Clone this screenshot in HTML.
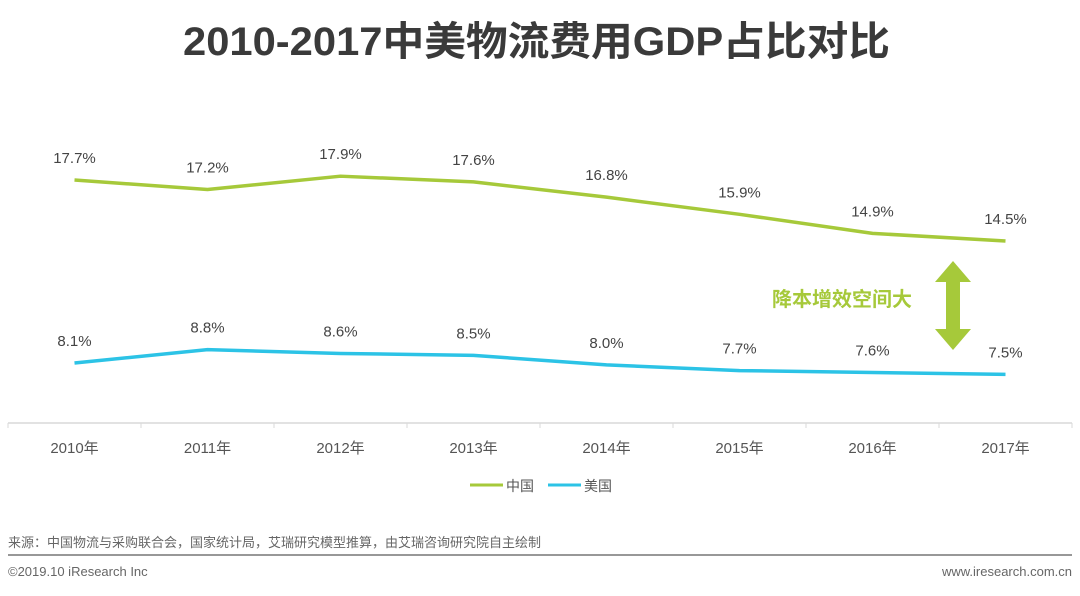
<!DOCTYPE html>
<html><head><meta charset="utf-8">
<style>
body{margin:0;background:#fff;width:1080px;height:591px;overflow:hidden;font-family:"Liberation Sans","Noto Sans CJK SC",sans-serif;}
</style></head><body>
<svg width="1080" height="591" xmlns="http://www.w3.org/2000/svg" style="font-family:'Liberation Sans','Noto Sans CJK SC',sans-serif">
<text x="183" y="55" font-size="40" font-weight="bold" fill="#3a3a3a" textLength="707" lengthAdjust="spacingAndGlyphs">2010-2017中美物流费用GDP占比对比</text>
<g id="axis"></g>
<g id="series"></g>
<text x="842" y="306" text-anchor="middle" font-size="20" font-weight="bold" fill="#a6c93a">降本增效空间大</text>
<polygon points="953,261 971,282 960,282 960,329 971,329 953,350 935,329 946,329 946,282 935,282" fill="#a6c93a"/>
<g>
<line x1="470" y1="485" x2="503" y2="485" stroke="#a6c93a" stroke-width="3"/>
<text x="506" y="491" font-size="14" fill="#555">中国</text>
<line x1="548" y1="485" x2="581" y2="485" stroke="#2cc3e6" stroke-width="3"/>
<text x="584" y="491" font-size="14" fill="#555">美国</text>
</g>
<text x="8" y="547" font-size="13" fill="#666">来源：中国物流与采购联合会，国家统计局，艾瑞研究模型推算，由艾瑞咨询研究院自主绘制</text>
<line x1="8" y1="555" x2="1072" y2="555" stroke="#777" stroke-width="1.5"/>
<text x="8" y="576" font-size="13" fill="#666">©2019.10 iResearch Inc</text>
<text x="1072" y="576" text-anchor="end" font-size="13" fill="#666">www.iresearch.com.cn</text>
</svg>
<script>
const categories=["2010年","2011年","2012年","2013年","2014年","2015年","2016年","2017年"];
const chinaValues=[17.7,17.2,17.9,17.6,16.8,15.9,14.9,14.5];
const usValues=[8.1,8.8,8.6,8.5,8.0,7.7,7.6,7.5];
const NS="http://www.w3.org/2000/svg";
const left=8,right=1072,axisY=423;
const band=(right-left)/categories.length;
function xScale(i){return left+band*(i+0.5);}
function yScale(v){return 180+(17.7-v)*19.06;}
function mk(tag,attrs,parent){const e=document.createElementNS(NS,tag);for(const k in attrs)e.setAttribute(k,attrs[k]);parent.appendChild(e);return e;}
const ax=document.getElementById('axis');
const base=mk('line',{x1:left,y1:axisY,x2:right,y2:axisY,stroke:'#d9d9d9','stroke-width':1.5},ax);


for(let i=0;i<=categories.length;i++){
  const t=mk('line',{x1:left+band*i,y1:axisY,x2:left+band*i,y2:axisY+5,stroke:'#d9d9d9'},ax);
  
  
}
categories.forEach((c,i)=>{
  const t=mk('text',{x:xScale(i),y:453,'text-anchor':'middle','font-size':15,fill:'#555'},ax);
  t.textContent=c;
  
  
});
const sg=document.getElementById('series');
function drawSeries(vals,color,name){
  const p=mk('polyline',{points:vals.map((v,i)=>xScale(i)+','+yScale(v)).join(' '),fill:'none',stroke:color,'stroke-width':3.5,'stroke-linejoin':'round'},sg);
  
  
  vals.forEach((v,i)=>{
    const t=mk('text',{x:xScale(i),y:yScale(v)-17,'text-anchor':'middle','font-size':15,fill:'#444'},sg);
    t.textContent=v.toFixed(1)+'%';
    
    
  });
}
drawSeries(chinaValues,'#a6c93a','china');
drawSeries(usValues,'#2cc3e6','us');
</script>
</body></html>
